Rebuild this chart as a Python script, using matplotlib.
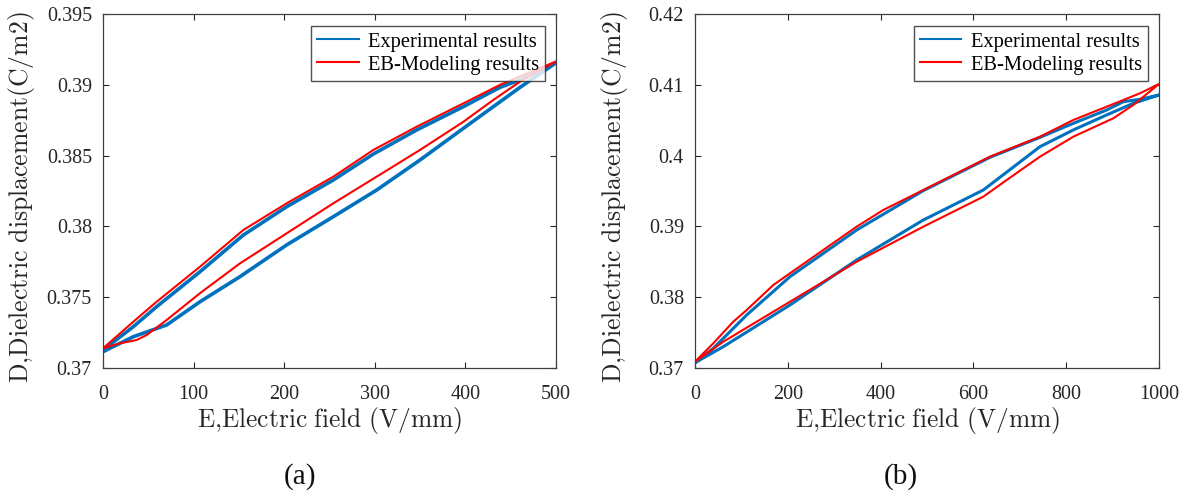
import matplotlib
matplotlib.use("Agg")
import matplotlib.pyplot as plt
from matplotlib.ticker import FixedLocator, FixedFormatter

# ---------------- data: panel (a) ----------------
a_red_up_x = [0, 33.5, 59.2, 107, 155, 202.7, 254.2, 298.4, 346.2, 397.8, 438, 500]
a_red_up_y = [0.37139, 0.37327, 0.37468, 0.37715, 0.37975, 0.38163, 0.38351,
              0.38540, 0.38704, 0.38869, 0.38999, 0.39165]
a_red_lo_x = [0, 18.8, 37.2, 48.2, 70.3, 107, 151.2, 202.7, 254.2, 302, 349.9,
              397.8, 430.8, 460.3, 500]
a_red_lo_y = [0.37139, 0.37174, 0.37198, 0.37233, 0.37339, 0.37528, 0.37739,
              0.37951, 0.38163, 0.38351, 0.38540, 0.38739, 0.38893, 0.39022, 0.39165]
a_blue_up_x = [0, 33.5, 59.2, 107.1, 154.9, 202.7, 254.3, 298.4, 346.2, 397.9, 438.2, 460.3, 500]
a_blue_up_y = [0.37127, 0.37292, 0.37433, 0.37680, 0.37939, 0.38139, 0.38328,
               0.38511, 0.38681, 0.38846, 0.38982, 0.39034, 0.39155]
a_blue_lo_x = [0, 33.5, 70.3, 107.1, 151.2, 202.7, 254.3, 302.1, 349.9, 397.9, 430.9, 460.3, 500]
a_blue_lo_y = [0.37115, 0.37221, 0.37304, 0.37468, 0.37645, 0.37869, 0.38069,
               0.38257, 0.38469, 0.38693, 0.38846, 0.38982, 0.39155]
a_xticks = [0, 100, 200, 300, 400, 500]
a_yticks = [0.37, 0.375, 0.38, 0.385, 0.39, 0.395]
a_yticklabels = ["0.37", "0.375", "0.38", "0.385", "0.39", "0.395"]

# ---------------- data: panel (b) ----------------
b_red_up_x = [0, 39.5, 82.5, 111.4, 168.8, 204.7, 276.5, 348.4, 405.8, 492, 585.5,
              635.8, 743.5, 815.3, 887.3, 959, 1000]
b_red_up_y = [0.37089, 0.37349, 0.37654, 0.37819, 0.38172, 0.38338, 0.38667,
              0.38996, 0.39232, 0.39514, 0.39820, 0.39985, 0.40267, 0.40503,
              0.40691, 0.40880, 0.41011]
b_red_lo_x = [0, 61, 132.9, 204.7, 348.4, 492, 621.4, 671.7, 743.5, 815.3, 901.5, 944.6, 1000]
b_red_lo_y = [0.37089, 0.37371, 0.37654, 0.37936, 0.38501, 0.38996, 0.39420,
              0.39655, 0.39985, 0.40267, 0.40527, 0.40715, 0.41011]
b_blue_up_x = [0, 39.5, 111.4, 204.7, 348.4, 492, 635.8, 743.5, 815.3, 887.2, 923.2, 959, 1000]
b_blue_up_y = [0.37075, 0.37278, 0.37749, 0.38290, 0.38949, 0.39505, 0.39976,
               0.40258, 0.40456, 0.40644, 0.40762, 0.40795, 0.40856]
b_blue_lo_x = [0, 61, 204.7, 348.4, 492, 621.4, 743.5, 815.3, 887.2, 944.6, 1000]
b_blue_lo_y = [0.37075, 0.37301, 0.37890, 0.38525, 0.39090, 0.39514, 0.40126,
               0.40362, 0.40574, 0.40738, 0.40856]
b_xticks = [0, 200, 400, 600, 800, 1000]
b_yticks = [0.37, 0.38, 0.39, 0.40, 0.41, 0.42]
b_yticklabels = ["0.37", "0.38", "0.39", "0.4", "0.41", "0.42"]

series_names = ["Experimental results", "EB-Modeling results"]
xlabel = r"$\mathrm{E{,}Electric\ field\ (V/mm)}$"
ylabel = r"$\mathrm{D{,}Dielectric\ displacement(C/m2)}$"
captions = ["(a)", "(b)"]

BLUE = "#0072BD"
RED = "#FF0000"
FONT = "Liberation Serif"

plt.rcParams["font.family"] = FONT
plt.rcParams["mathtext.fontset"] = "cm"

fig = plt.figure(figsize=(11.92, 4.96), dpi=100)

W, H = 1192.0, 496.0


def loop(lo_x, lo_y, up_x, up_y):
    return list(lo_x) + list(up_x[::-1]), list(lo_y) + list(up_y[::-1])


def setup(ax, xlim, ylim, xticks, yticks, ytl, axw):
    ax.set_xlim(*xlim)
    ax.set_ylim(*ylim)
    ax.xaxis.set_major_locator(FixedLocator(xticks))
    ax.set_xticklabels([str(t) for t in xticks])
    ax.yaxis.set_major_locator(FixedLocator(yticks))
    ax.yaxis.set_major_formatter(FixedFormatter(ytl))
    ax.tick_params(direction="in", top=True, right=True, length=4.5, width=0.8,
                   color="#262626", labelsize=14.5, labelcolor="#262626")
    ax.tick_params(axis="x", pad=12)
    ax.tick_params(axis="y", pad=8)
    for s in ax.spines.values():
        s.set_color("#404040")
        s.set_linewidth(0.9)
    ax.set_xlabel(xlabel, fontsize=18.3, color="#262626", va="center")
    ax.xaxis.set_label_coords(0.5, -52 / 354.0)
    ax.set_ylabel(ylabel, fontsize=18.5, color="#262626", va="center")
    ax.yaxis.set_label_coords(-81 / axw, (368 - 197) / 354.0)
    leg = ax.legend(loc="upper right", bbox_to_anchor=(0.976, 0.966), borderaxespad=0,
                    fontsize=14.8, frameon=True, fancybox=False, handlelength=2.0,
                    handletextpad=0.45, borderpad=0.3, labelspacing=0.18)
    leg.get_frame().set_edgecolor("#262626")
    leg.get_frame().set_linewidth(1.0)
    for ln in leg.get_lines():
        ln.set_linewidth(1.5)


# panel (a)
ax1 = fig.add_axes([103 / W, 128 / H, 453 / W, 354 / H])
bx, by = loop(a_blue_lo_x, a_blue_lo_y, a_blue_up_x, a_blue_up_y)
rx, ry = loop(a_red_lo_x, a_red_lo_y, a_red_up_x, a_red_up_y)
ax1.plot(bx, by, color=BLUE, lw=2.6, label=series_names[0])
ax1.plot(rx, ry, color=RED, lw=1.5, label=series_names[1])
setup(ax1, (0, 500), (0.37, 0.395), a_xticks, a_yticks, a_yticklabels, 453.0)

# panel (b)
ax2 = fig.add_axes([695 / W, 128 / H, 464 / W, 354 / H])
bx, by = loop(b_blue_lo_x, b_blue_lo_y, b_blue_up_x, b_blue_up_y)
rx, ry = loop(b_red_lo_x, b_red_lo_y, b_red_up_x, b_red_up_y)
ax2.plot(bx, by, color=BLUE, lw=2.2, label=series_names[0])
ax2.plot(rx, ry, color=RED, lw=1.5, label=series_names[1])
setup(ax2, (0, 1000), (0.37, 0.42), b_xticks, b_yticks, b_yticklabels, 464.0)

fig.text(300 / W, 1 - 477 / H, captions[0], ha="center", va="center", fontsize=21, color="#111111")
fig.text(901 / W, 1 - 477 / H, captions[1], ha="center", va="center", fontsize=21, color="#111111")

fig.savefig("out.png", dpi=100)
